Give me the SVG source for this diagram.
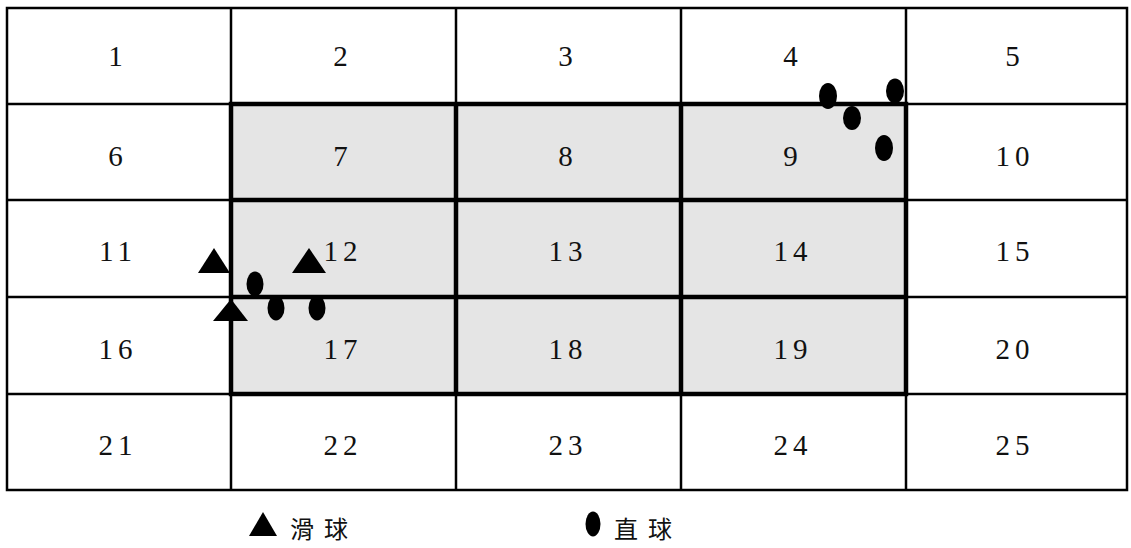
<svg xmlns="http://www.w3.org/2000/svg" width="1131" height="548" viewBox="0 0 1131 548">
<style>
.thin{stroke:#000;stroke-width:2.5;fill:none}
.thick{stroke:#000;stroke-width:4.5;fill:none}
.num{font-family:"Liberation Serif","Times New Roman",serif;font-size:29px;fill:#111;text-anchor:middle;letter-spacing:5px}
.cjk{font-family:"Noto Sans CJK TC","Noto Sans CJK SC",sans-serif;font-size:24px;fill:#111;letter-spacing:10px}
.mk{fill:#000}
</style>
<rect x="0" y="0" width="1131" height="548" fill="#fff"/>
<g id="grid">
<rect x="231" y="104" width="675" height="290" fill="#e5e5e5"/>
<rect class="thin" x="7" y="8" width="1120" height="482"/>
<path class="thin" d="M231 8V490M456 8V490M681 8V490M906 8V490M7 104H1127M7 200H1127M7 297H1127M7 394H1127"/>
<rect class="thick" x="231" y="104" width="675" height="290"/>
<path class="thick" d="M456 104V394M681 104V394M231 200H906M231 297H906"/>
</g>
<g id="labels">
<text class="num" x="118" y="66">1</text>
<text class="num" x="343" y="66">2</text>
<text class="num" x="568" y="66">3</text>
<text class="num" x="793" y="66">4</text>
<text class="num" x="1015" y="66">5</text>
<text class="num" x="118" y="166">6</text>
<text class="num" x="343" y="166">7</text>
<text class="num" x="568" y="166">8</text>
<text class="num" x="793" y="166">9</text>
<text class="num" x="1015" y="166">10</text>
<text class="num" x="118" y="261">11</text>
<text class="num" x="343" y="261">12</text>
<text class="num" x="568" y="261">13</text>
<text class="num" x="793" y="261">14</text>
<text class="num" x="1015" y="261">15</text>
<text class="num" x="118" y="359">16</text>
<text class="num" x="343" y="359">17</text>
<text class="num" x="568" y="359">18</text>
<text class="num" x="793" y="359">19</text>
<text class="num" x="1015" y="359">20</text>
<text class="num" x="118" y="455">21</text>
<text class="num" x="343" y="455">22</text>
<text class="num" x="568" y="455">23</text>
<text class="num" x="793" y="455">24</text>
<text class="num" x="1015" y="455">25</text>
</g>
<g id="sliders">
<polygon class="mk" points="214,248 230,273 198,273"/>
<polygon class="mk" points="309,248 326,273 292,273"/>
<polygon class="mk" points="231,299 248,321 213,321"/>
</g>
<g id="fastballs">
<ellipse class="mk" cx="255" cy="284" rx="8.5" ry="12.5"/>
<ellipse class="mk" cx="276" cy="308" rx="8.5" ry="12.5"/>
<ellipse class="mk" cx="317" cy="308" rx="8.5" ry="12.5"/>
<ellipse class="mk" cx="828" cy="96" rx="9" ry="13"/>
<ellipse class="mk" cx="852" cy="118" rx="9" ry="12"/>
<ellipse class="mk" cx="895" cy="91" rx="9" ry="12.5"/>
<ellipse class="mk" cx="884" cy="148" rx="9" ry="13"/>
</g>
<g id="legend">
<polygon class="mk" points="263,512 277,536 249,536"/>
<text class="cjk" x="290" y="538">滑球</text>
<ellipse class="mk" cx="593" cy="524" rx="7.5" ry="12.5"/>
<text class="cjk" x="614" y="538">直球</text>
</g>
</svg>
